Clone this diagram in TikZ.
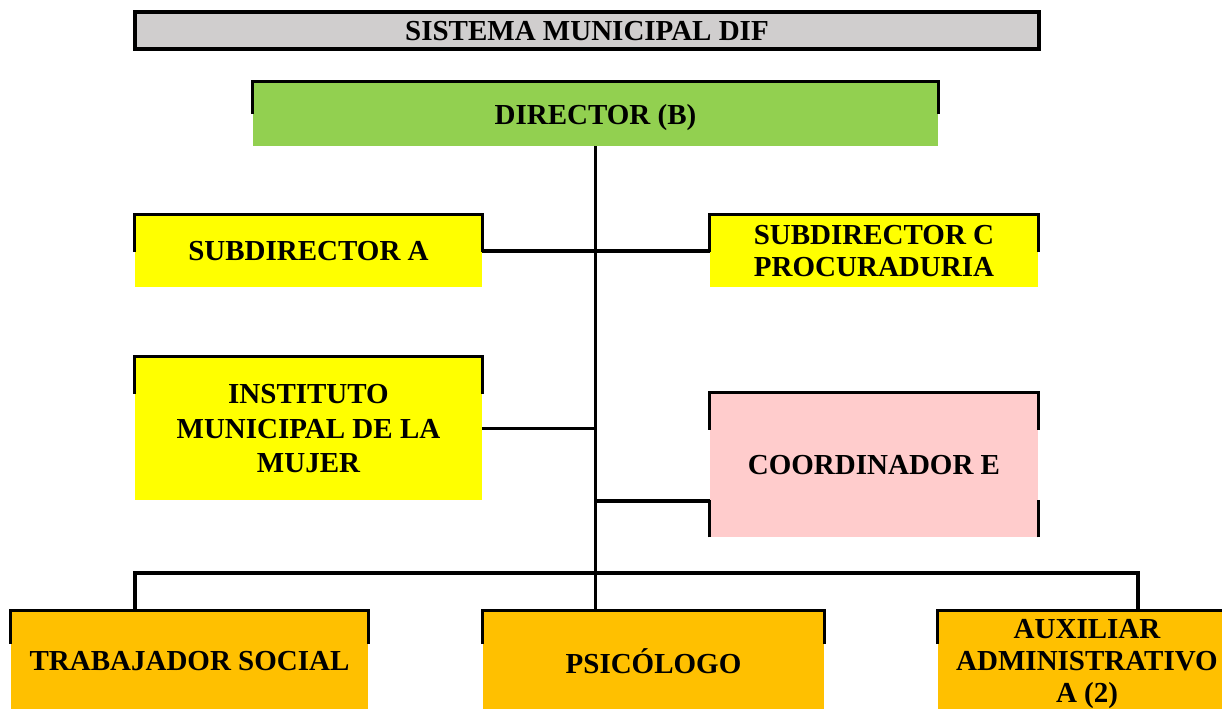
\documentclass[tikz,border=0pt]{standalone}
\usepackage{fontspec}
\setmainfont{Liberation Serif}
\usepackage{tikz}
\definecolor{titlegray}{HTML}{D0CECE}
\definecolor{dirgreen}{HTML}{92D050}
\definecolor{subyellow}{HTML}{FFFF00}
\definecolor{coordpink}{HTML}{FFCCCC}
\definecolor{staffamber}{HTML}{FFC000}
\tikzset{
	unit/.style={inner sep=0pt, text depth=0pt, align=center, font=\bfseries\fontsize{14.5}{16}\selectfont},
	lower/.style={text depth=-2.5pt},
	edge/.style={line width=1.6pt, color=black},
}

\begin{document}
\begin{tikzpicture}[x=0.5pt,y=-0.5pt]
		\useasboundingbox (0,0) rectangle (1222,708);
		\clip (0,0) rectangle (1222,708);
		% title
		\node[unit, fill=titlegray, draw, line width=1.6pt, minimum width=452pt, minimum height=18.5pt] (title) at (587,30.5) {SISTEMA MUNICIPAL DIF};
		% boxes
		\node[unit, fill=dirgreen, minimum width=342.5pt, minimum height=32pt] (director) at (595.5,114) {DIRECTOR (B)};
		\node[unit, fill=subyellow, minimum width=173.5pt, minimum height=36pt] (subA) at (308.5,251) {SUBDIRECTOR A};
		\node[unit, lower, fill=subyellow, minimum width=164pt, minimum height=36pt] (subC) at (874,251) {SUBDIRECTOR C\\PROCURADURIA};
		\node[unit, lower, fill=subyellow, minimum width=173.5pt, minimum height=71.5pt, font=\bfseries\fontsize{14.5}{17.2}\selectfont] (inst) at (308.5,428.5) {INSTITUTO\\MUNICIPAL DE LA\\MUJER};
		\node[unit, lower, fill=coordpink, minimum width=164pt, minimum height=72pt] (coord) at (874,465) {COORDINADOR E};
		\node[unit, fill=staffamber, minimum width=178.5pt, minimum height=50pt, text depth=-2pt] (trab) at (189.5,661) {TRABAJADOR SOCIAL};
		\node[unit, fill=staffamber, minimum width=170.5pt, minimum height=50pt] (psic) at (653.5,661) {PSICÓLOGO};
		\node[unit, lower, fill=staffamber, minimum width=149pt, minimum height=50pt] (aux) at (1087,661) {AUXILIAR\\ADMINISTRATIVO\\A (2)};
		% top edges with short side ticks
		\foreach \b/\t in {director/32,subA/37,subC/37,inst/37,coord/37,trab/33,psic/33,aux/33}
		\draw[edge] (\b.north west) ++(0,\t) -- (\b.north west) -- (\b.north east) -- ++(0,\t);
		\draw[edge] (coord.south west) -- ++(0,-37);
		\draw[edge] (coord.south east) -- ++(0,-37);
		% connectors
		\coordinate (cjoin) at (595.5,501);
		\coordinate (busL) at (135,573);
		\coordinate (busR) at (1138,573);
		\draw[edge] (director.south) -- (director.south |- psic.north);
		\draw[edge] (subA.east) -- (subC.west);
		\draw[edge] (inst.east) -- (inst.east -| director.south);
		\draw[edge] (cjoin) -- (cjoin -| coord.west);
		\draw[edge] (busL |- trab.north) -- (busL) -- (busR) -- (busR |- aux.north);
		\end{tikzpicture}
\end{document}
